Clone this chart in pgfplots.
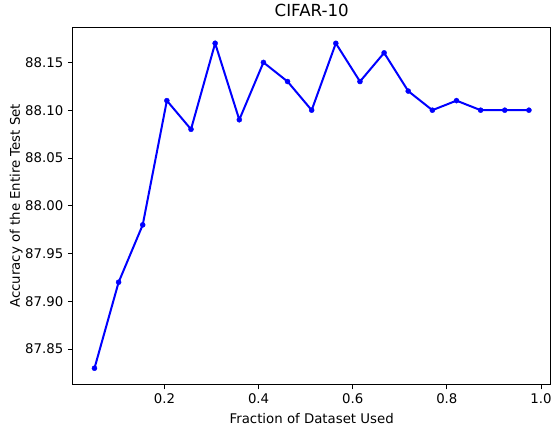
\documentclass[border=0pt]{standalone}
\usepackage{pgfplots}
\pgfplotsset{compat=1.18}
\usepackage{fontspec}
\setmainfont{DejaVu Sans}
\begin{document}
\begin{tikzpicture}
\begin{axis}[
  scale only axis,
  width=359pt, height=268.5pt,
  xmin=0.0051, xmax=1.0205,
  ymin=87.813, ymax=88.187,
  xtick={0.2,0.4,0.6,0.8,1.0},
  ytick={87.85,87.90,87.95,88.00,88.05,88.10,88.15},
  xticklabel style={/pgf/number format/.cd,fixed,fixed zerofill,precision=1},
  yticklabel style={/pgf/number format/.cd,fixed,fixed zerofill,precision=2},
  /pgf/number format/assume math mode=true,
  tick align=outside,
  tick pos=left,
  major tick length=3.6pt,
  tick style={black, line width=0.6pt},
  axis line style={black, line width=0.6pt},
  ticklabel style={font=\fontsize{10}{12}\selectfont},
  title={CIFAR-10},
  title style={font=\fontsize{12.5}{14}\selectfont, yshift=-2pt},
  xlabel={Fraction of Dataset Used},
  ylabel={Accuracy of the Entire Test Set},
  label style={font=\fontsize{10}{12}\selectfont},
  ylabel style={yshift=-5pt},
]
\addplot[blue, line width=1.5pt, mark=*, mark size=1.9pt, mark options={solid, line width=0.3pt}] coordinates {
(0.0513,87.83) (0.1026,87.92) (0.1538,87.98) (0.2051,88.11) (0.2564,88.08)
(0.3077,88.17) (0.3590,88.09) (0.4103,88.15) (0.4615,88.13) (0.5128,88.10)
(0.5641,88.17) (0.6154,88.13) (0.6667,88.16) (0.7179,88.12) (0.7692,88.10)
(0.8205,88.11) (0.8718,88.10) (0.9231,88.10) (0.9744,88.10)
};
\end{axis}
\path (current bounding box.west) ++(-4pt,0) coordinate (padl);
\path (padl) -- (current bounding box.center);
\end{tikzpicture}
\end{document}
